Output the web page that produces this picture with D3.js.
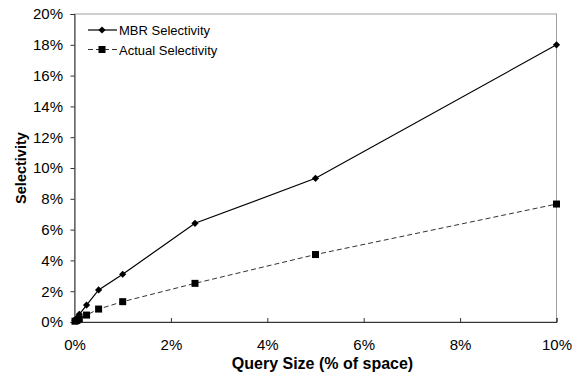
<!DOCTYPE html>
<html>
<head>
<meta charset="utf-8">
<script src="https://cdn.jsdelivr.net/npm/d3@7"></script>
<style>
  body { margin: 0; background: #fff; }
  svg { display: block; font-family: "Liberation Sans", Arial, sans-serif; }
</style>
</head>
<body>
<svg id="chart" width="579" height="377"></svg>
<script>
// query size (% of space)
const querySizes = [0.01, 0.05, 0.1, 0.25, 0.5, 1, 2.5, 5, 10];
const mbrSel = [0.1, 0.25, 0.5, 1.1, 2.08, 3.1, 6.41, 9.33, 18];
const actualSel = [0.05, 0.1, 0.2, 0.45, 0.84, 1.32, 2.51, 4.38, 7.66];
const xTicks = [0, 2, 4, 6, 8, 10];
const yTicks = [0, 2, 4, 6, 8, 10, 12, 14, 16, 18, 20];

const svg = d3.select('#chart');
const m = { left: 74.5, top: 14, right: 556.5, bottom: 322 };
const FONT = '"Liberation Sans", Arial, sans-serif';

const x = d3.scaleLinear().domain([0, 10]).range([m.left, m.right]);
const y = d3.scaleLinear().domain([0, 20]).range([m.bottom, m.top]);

// plot border
svg.append('rect')
  .attr('x', m.left).attr('y', m.top)
  .attr('width', m.right - m.left).attr('height', m.bottom - m.top)
  .attr('fill', 'none').attr('stroke', '#a0a0a0').attr('stroke-width', 1);

// y axis
const yAxis = svg.append('g')
  .attr('transform', `translate(${m.left},0)`)
  .call(d3.axisLeft(y).tickValues(yTicks).tickSize(4).tickPadding(7.5).tickFormat(d => d + '%'));
yAxis.select('.domain').attr('stroke', '#333');
yAxis.selectAll('.tick line').attr('stroke', '#333');
yAxis.selectAll('text').attr('font-size', 15).attr('fill', '#000').attr('font-family', FONT);

// x axis (ticks inward)
const xAxis = svg.append('g')
  .attr('transform', `translate(0,${m.bottom})`)
  .call(d3.axisBottom(x).tickValues(xTicks).tickSize(-4).tickPadding(17).tickFormat(d => d + '%'));
xAxis.select('.domain').attr('stroke', '#333');
xAxis.selectAll('.tick line').attr('stroke', '#333');
xAxis.selectAll('text').attr('font-size', 15).attr('fill', '#000').attr('font-family', FONT);

// axis titles
svg.append('text')
  .attr('x', (m.left + m.right) / 2 + 7).attr('y', 368.5)
  .attr('text-anchor', 'middle').attr('font-size', 16).attr('font-weight', 'bold')
  .text('Query Size (% of space)');
svg.append('text')
  .attr('transform', `translate(25.5,${(m.top + m.bottom) / 2}) rotate(-90)`)
  .attr('text-anchor', 'middle').attr('font-size', 14.5).attr('font-weight', 'bold')
  .text('Selectivity');

const line = d3.line().x(d => x(d[0])).y(d => y(d[1]));
const mbrData = querySizes.map((q, i) => [q, mbrSel[i]]);
const actData = querySizes.map((q, i) => [q, actualSel[i]]);

svg.append('path').datum(actData)
  .attr('d', line).attr('fill', 'none')
  .attr('stroke', '#333').attr('stroke-width', 1).attr('stroke-dasharray', '5,3');
svg.append('path').datum(mbrData)
  .attr('d', line).attr('fill', 'none')
  .attr('stroke', '#000').attr('stroke-width', 1.2);

const diamond = 'M0,-3.6L3.6,0L0,3.6L-3.6,0Z';
svg.append('g').selectAll('path').data(mbrData).join('path')
  .attr('d', diamond)
  .attr('transform', d => `translate(${x(d[0])},${y(d[1])})`)
  .attr('fill', '#000');

svg.append('g').selectAll('rect').data(actData).join('rect')
  .attr('x', d => x(d[0]) - 3.5).attr('y', d => y(d[1]) - 3.5)
  .attr('width', 7).attr('height', 7).attr('fill', '#000');

// legend
const lg = svg.append('g').attr('font-size', 13);
lg.append('line').attr('x1', 88).attr('x2', 117).attr('y1', 30).attr('y2', 30)
  .attr('stroke', '#000').attr('stroke-width', 1.2);
lg.append('path').attr('d', diamond).attr('transform', 'translate(102,30)').attr('fill', '#000');
lg.append('text').attr('x', 119).attr('y', 35).text('MBR Selectivity');

lg.append('line').attr('x1', 88).attr('x2', 117).attr('y1', 49.5).attr('y2', 49.5)
  .attr('stroke', '#333').attr('stroke-width', 1).attr('stroke-dasharray', '5,3');
lg.append('rect').attr('x', 98.5).attr('y', 46).attr('width', 7).attr('height', 7).attr('fill', '#000');
lg.append('text').attr('x', 119).attr('y', 54.5).text('Actual Selectivity');
</script>
</body>
</html>
